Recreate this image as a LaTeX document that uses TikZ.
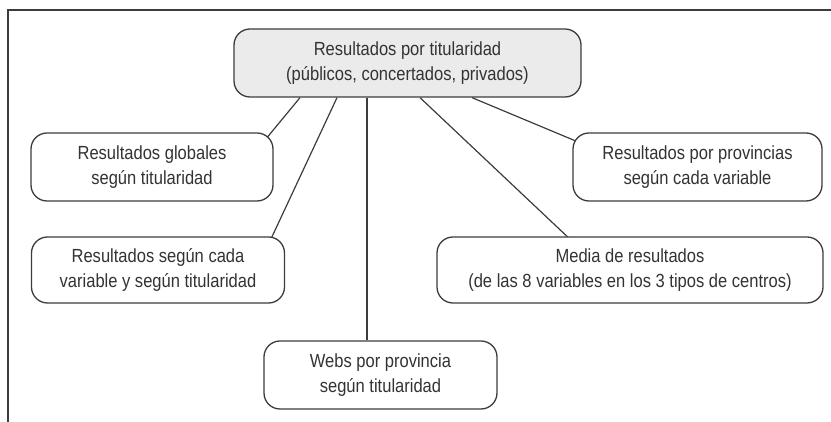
\documentclass[tikz,border=0pt]{standalone}
\usepackage{fontspec}
\setmainfont{Liberation Sans}[FakeStretch=0.87]
\usetikzlibrary{backgrounds}
\definecolor{linea}{HTML}{3C3C3C}
\definecolor{relleno}{HTML}{EBEBEC}
\definecolor{texto}{HTML}{333333}

\begin{document}
\begin{tikzpicture}[x=1pt,y=1pt]
            \tikzstyle{every node}+=[inner sep=0pt, text=texto, align=center, font=\fontsize{19}{25}\selectfont]
            \tikzstyle{caja}=[draw=linea, line width=1.3pt, rounded corners=16pt, fill=white]
            \tikzstyle{rama}=[draw=linea, line width=1.2pt]
            \useasboundingbox (0,0) rectangle (831,422);
            % marco
            \draw [linea, line width=1.2pt] (831,412) -- (8,412) -- (8,0);
            % cajas
            \node [caja, fill=relleno, minimum width=347pt, minimum height=68pt] (tit) at (407.5,359) {Resultados por titularidad\\(públicos, concertados, privados)};
            \node [caja, minimum width=242pt, minimum height=68pt] (glob) at (152,255) {Resultados globales\\según titularidad};
            \node [caja, minimum width=253pt, minimum height=66pt] (vartit) at (158,152) {Resultados según cada\\variable y según titularidad};
            \node [caja, minimum width=233pt, minimum height=68pt] (webs) at (380.5,47) {Webs por provincia\\según titularidad};
            \node [caja, minimum width=386pt, minimum height=66pt] (media) at (630,152) {Media de resultados\\(de las 8 variables en los 3 tipos de centros)};
            \node [caja, minimum width=249pt, minimum height=68pt] (prov) at (697.5,255) {Resultados por provincias\\según cada variable};
            % ramas
            \begin{scope}[on background layer]
                \draw [rama] ([xshift=-107.5pt]tit.south) -- ([shift={(-13pt,-13pt)}]glob.north east);
                \draw [rama] ([xshift=-70.5pt]tit.south) -- ([shift={(-19.5pt,-14pt)}]vartit.north east);
                \draw [rama] ([xshift=-40.5pt]tit.south) -- ([xshift=-40.5pt]tit.south |- webs.north);
                \draw [rama] ([xshift=12.5pt]tit.south) -- ([shift={(145.5pt,-14pt)}]media.north west);
                \draw [rama] ([xshift=64.5pt]tit.south) -- ([shift={(15pt,-13.5pt)}]prov.north west);
            \end{scope}
        \end{tikzpicture}
\end{document}
